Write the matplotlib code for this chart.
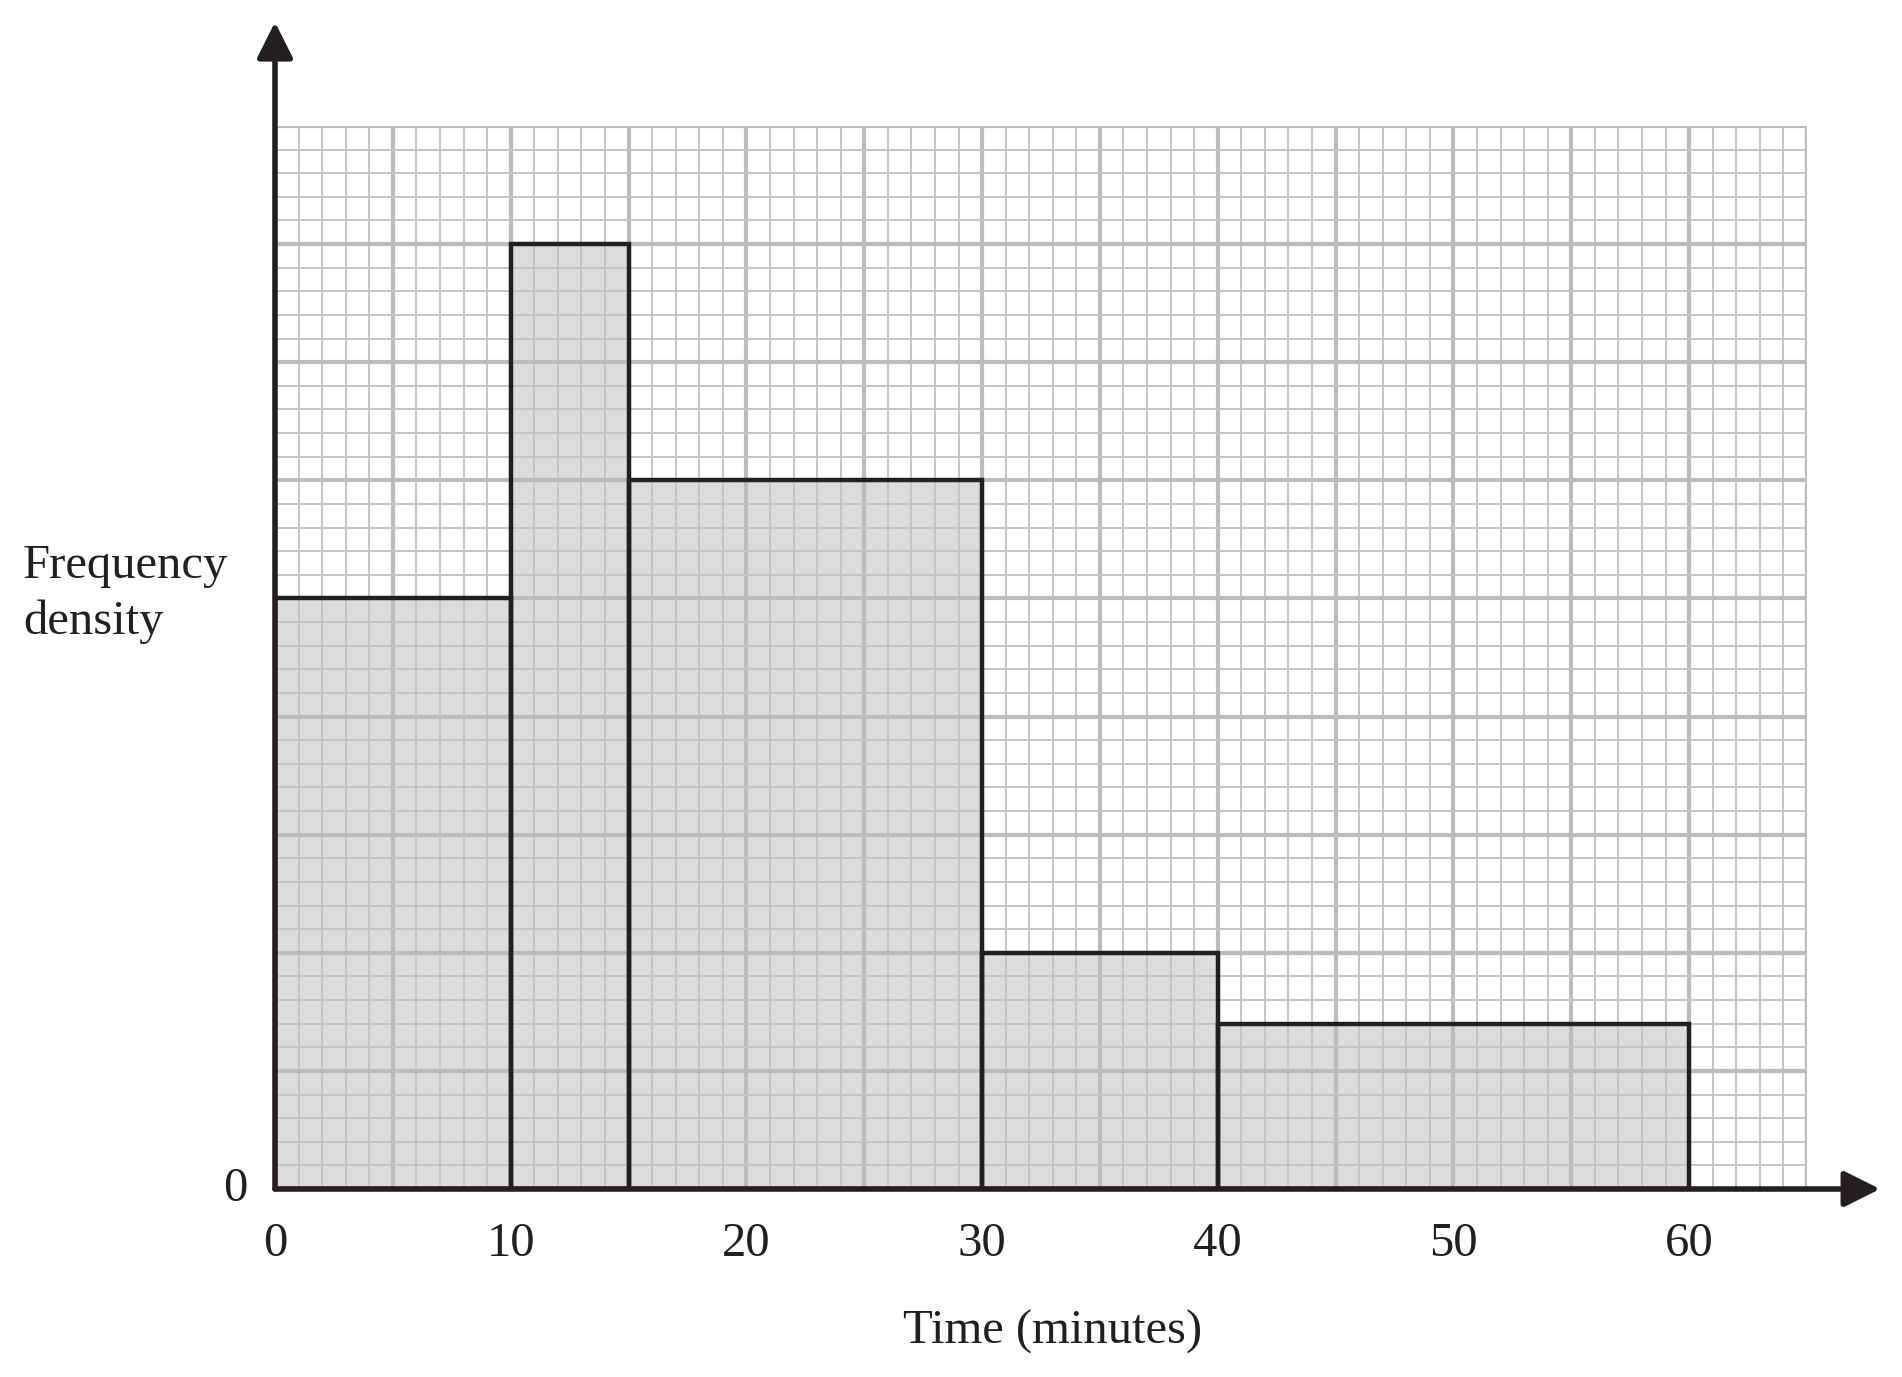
import matplotlib.pyplot as plt
import numpy as np

# histogram data (class boundaries and frequency density)
edges = [0, 10, 15, 30, 40, 60]
heights = [5, 8, 6, 2, 1.4]
xticks = [0, 10, 20, 30, 40, 50, 60]

plt.rcParams['font.family'] = ['Liberation Serif', 'DejaVu Serif']
ink = '#231f20'

fig = plt.figure(figsize=(19.02, 13.77), dpi=100)
ax = fig.add_axes([275/1902, 1 - 1189/1377, (1807-275)/1902, (1189-126)/1377])
ax.set_xlim(0, 65)
ax.set_ylim(0, 9)
ax.axis('off')

widths = np.diff(edges)
# fill under the grid, outline on top
ax.bar(edges[:-1], heights, width=widths, align='edge', color='#dcdcde', lw=0, zorder=1)

# graph paper
for x in np.arange(0, 66, 1):
    major = x % 5 == 0
    ax.plot([x, x], [0, 9], color='#bcbcbe' if major else '#c4c4c6',
            lw=3.0 if major else 1.4, zorder=2, solid_capstyle='butt')
for y in np.arange(0, 9.01, 0.2):
    major = abs(y - round(y)) < 1e-6
    ax.plot([0, 65], [y, y], color='#bcbcbe' if major else '#c4c4c6',
            lw=3.0 if major else 1.4, zorder=2, solid_capstyle='butt')

ax.bar(edges[:-1], heights, width=widths, align='edge', fill=False,
       edgecolor=ink, lw=3.2, zorder=3)

# axes with arrows
ap = dict(arrowstyle='-|>,head_length=1.0,head_width=0.5', color=ink, lw=4.0,
          shrinkA=0, shrinkB=0, mutation_scale=22)
ax.annotate('', xy=(68.1, 0), xytext=(0, 0), arrowprops=ap, annotation_clip=False, zorder=5)
ax.annotate('', xy=(0, 9.88), xytext=(0, 0), arrowprops=ap, annotation_clip=False, zorder=5)

for t in xticks:
    ax.text(t, -0.28, str(t), ha='center', va='top', fontsize=35, color=ink, clip_on=False)
ax.text(-1.7, 0, '0', ha='center', va='center', fontsize=35, color=ink, clip_on=False)

fig.text(23/1902, 1 - 594/1377, 'Frequency\ndensity', ha='left', va='center',
         fontsize=35, color=ink, linespacing=1.33)
fig.text(1053/1902, 1 - 1332/1377, 'Time (minutes)', ha='center', va='center',
         fontsize=35, color=ink)

fig.savefig('out.png', dpi=100)
